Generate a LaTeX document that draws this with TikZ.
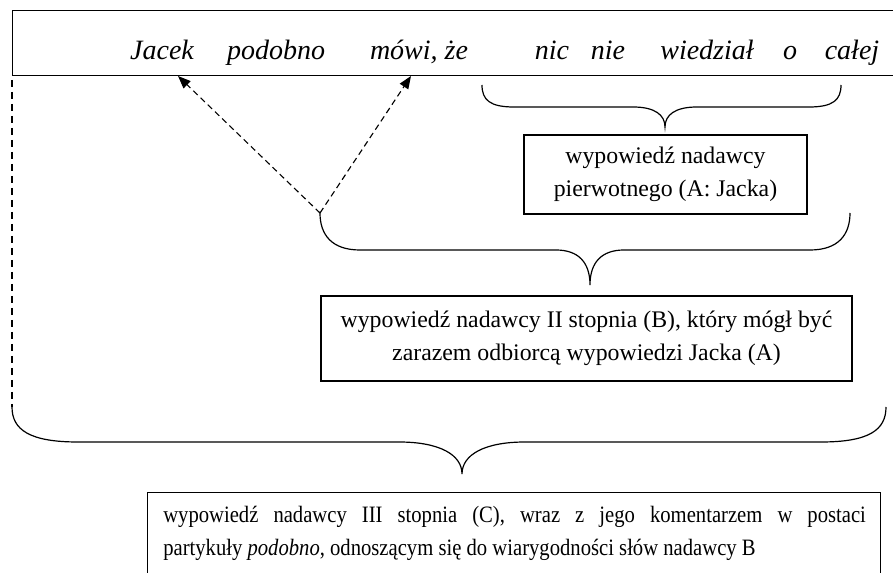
\documentclass[tikz,border=0pt]{standalone}
\usepackage{fontspec}
\setmainfont{Liberation Serif}
\newfontfamily\narrowserif[FakeStretch=0.88]{Liberation Serif}
\usetikzlibrary{arrows.meta}
\begin{document}
\begin{tikzpicture}[x=0.75pt,y=-0.75pt,
  frame/.style={draw,line width=1.05pt,inner sep=0pt},
  word/.style={font=\fontsize{21}{25}\selectfont\itshape,anchor=base,inner sep=0pt},
  boxtext/.style={font=\fontsize{17.85}{24.75}\selectfont,align=center,inner sep=0pt},
  brace/.style={line width=0.9pt},
  conn/.style={line width=0.85pt,dash pattern=on 4.5pt off 3pt,-{Triangle[length=9.5pt,width=7.5pt]}},
  dashline/.style={line width=0.85pt,dash pattern=on 5.5pt off 3.5pt}]
\clip (0,0) rectangle (893,573);
% top sentence box
\node[frame,anchor=north west,minimum width=700pt,minimum height=48.75pt] (top) at (12,10) {};
\node[word] (w1) at (162,60) {Jacek};
\node[word] (w2) at (276,60) {podobno};
\node[word] (w3) at (419,60) {mówi, że};
\node[word] (w4) at (552,60) {nic};
\node[word] (w5) at (608,60) {nie};
\node[word] (w6) at (707,60) {wiedział};
\node[word] (w7) at (790,60) {o};
\node[word] (w8) at (852,60) {całej};
% boxes
\node[frame,minimum width=212.25pt,minimum height=59.25pt] (boxA) at (665.5,174.5) {};
\node[boxtext] (textA) at (boxA.center) {wypowiedź nadawcy\\pierwotnego (A: Jacka)};
\node[frame,minimum width=398.25pt,minimum height=63.75pt] (boxB) at (586.5,338.5) {};
\node[boxtext] (textB) at (boxB.center) {wypowiedź nadawcy II stopnia (B), który mógł być\\zarazem odbiorcą wypowiedzi Jacka (A)};
\node[frame,anchor=north west,minimum width=549.75pt,minimum height=100pt] (boxC) at (147,492) {};
\node[anchor=north west,inner sep=0pt,text width=527pt,align=justify,
      font=\narrowserif\fontsize{17.6}{24.75}\selectfont] (textC) at (163,506)
  {\tolerance=10000 wypowiedź nadawcy III stopnia (C), wraz z jego komentarzem w postaci\linebreak
   partykuły \textit{podobno}, odnoszącym się do wiarygodności słów nadawcy B};
% brace coordinates
\coordinate (b1l) at (482,85);
\coordinate (b1r) at (841,85);
\coordinate (b1t) at (665,127);
\coordinate (b2l) at (320,213);
\coordinate (b2r) at (850,213);
\coordinate (b2t) at (590,285);
\coordinate (b3l) at (12,407);
\coordinate (b3r) at (886,407);
\coordinate (b3t) at (462,474);
\coordinate (dtop) at (12,80);
\coordinate (tipJ) at (178,76);
\coordinate (tipM) at (411,76);
% braces
\draw[brace] (b1l) .. controls (482,100) and (490,107) .. (514,107) -- (633,107)
  .. controls (655,107) and (665,115) .. (b1t)
  .. controls (665,115) and (675,107) .. (697,107) -- (809,107)
  .. controls (833,107) and (841,100) .. (b1r);
\draw[brace] (b2l) .. controls (320,235) and (332,250) .. (360,250) -- (556,250)
  .. controls (578,250) and (590,262) .. (b2t)
  .. controls (590,262) and (602,250) .. (624,250) -- (810,250)
  .. controls (838,250) and (850,235) .. (b2r);
\draw[brace] (b3l) .. controls (12,430) and (30,442) .. (78,442) -- (399,442)
  .. controls (440,442) and (462,455) .. (b3t)
  .. controls (462,455) and (484,442) .. (525,442) -- (821,442)
  .. controls (869,442) and (886,430) .. (b3r);
% connectors
\draw[dashline] (dtop) -- (b3l);
\draw[conn] (b2l) -- (tipJ);
\draw[conn] (b2l) -- (tipM);
\end{tikzpicture}
\end{document}
